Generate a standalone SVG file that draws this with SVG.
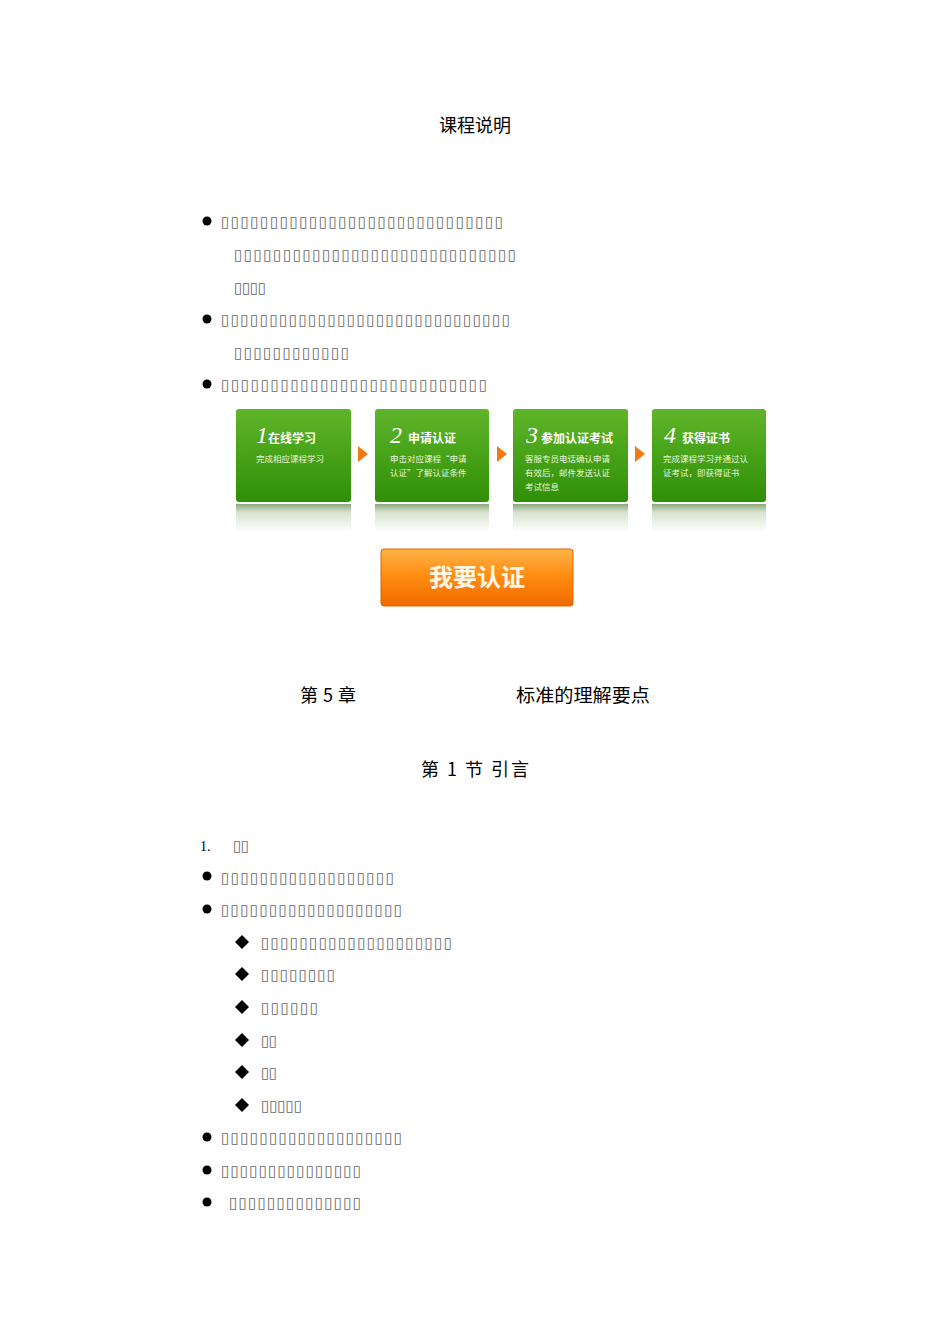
<svg xmlns="http://www.w3.org/2000/svg" width="950" height="1344" viewBox="0 0 950 1344">
<defs>
<style>
.t{font-family:"Noto Sans CJK SC","Liberation Sans",sans-serif;fill:#000}
.h{font-size:18px}
.b{font-family:"DejaVu Sans",sans-serif;font-size:15px;fill:#666}
.g1{font-family:"Noto Sans CJK SC",sans-serif;font-size:12px;fill:#fff;font-weight:bold}
.g2{font-family:"Noto Sans CJK SC",sans-serif;font-size:8.5px;fill:#e8f5d8}
.n{font-family:"Liberation Serif",serif;font-style:italic;font-size:24px;fill:#fff}
</style>
<linearGradient id="gg" x1="0" y1="0" x2="0" y2="1"><stop offset="0" stop-color="#5fb52a"/><stop offset="1" stop-color="#2f8f06"/></linearGradient>
<linearGradient id="rf" x1="0" y1="0" x2="0" y2="1"><stop offset="0" stop-color="#8aa87a"/><stop offset="0.3" stop-color="#d8e2d0"/><stop offset="1" stop-color="#fff"/></linearGradient>
<linearGradient id="og" x1="0" y1="0" x2="0" y2="1"><stop offset="0" stop-color="#ffb347"/><stop offset="0.5" stop-color="#ff8a10"/><stop offset="1" stop-color="#f06a00"/></linearGradient>
<g id="tri"><polygon points="0,-8 10,0 0,8" fill="#f07a10"/></g>
</defs>
<rect width="950" height="1344" fill="#fff"/>
<text class="t h" x="475" y="132" text-anchor="middle">课程说明</text>
<g id="bullets1">
<circle cx="207" cy="221" r="4.5"/><circle cx="207" cy="319" r="4.5"/><circle cx="207" cy="384" r="4.5"/>
<text class="b" x="221" y="227" textLength="282" lengthAdjust="spacing">▯▯▯▯▯▯▯▯▯▯▯▯▯▯▯▯▯▯▯▯▯▯▯▯▯▯▯▯▯</text>
<text class="b" x="234" y="260" textLength="282" lengthAdjust="spacing">▯▯▯▯▯▯▯▯▯▯▯▯▯▯▯▯▯▯▯▯▯▯▯▯▯▯▯▯▯</text>
<text class="b" x="234" y="293" textLength="32" lengthAdjust="spacing">▯▯▯▯</text>
<text class="b" x="221" y="325" textLength="289" lengthAdjust="spacing">▯▯▯▯▯▯▯▯▯▯▯▯▯▯▯▯▯▯▯▯▯▯▯▯▯▯▯▯▯▯</text>
<text class="b" x="234" y="358" textLength="115" lengthAdjust="spacing">▯▯▯▯▯▯▯▯▯▯▯▯</text>
<text class="b" x="221" y="390" textLength="266" lengthAdjust="spacing">▯▯▯▯▯▯▯▯▯▯▯▯▯▯▯▯▯▯▯▯▯▯▯▯▯▯▯</text>
</g>
<g id="step1">
<rect x="236" y="504" width="115" height="28" fill="url(#rf)"/>
<rect x="236" y="409" width="115" height="93" rx="3" fill="url(#gg)"/>
<text class="n" x="256" y="443">1</text><text class="g1" x="268" y="443">在线学习</text>
<text class="g2" x="256" y="462">完成相应课程学习</text>
</g>
<g id="step2">
<rect x="375" y="504" width="114" height="28" fill="url(#rf)"/>
<rect x="375" y="409" width="114" height="93" rx="3" fill="url(#gg)"/>
<text class="n" x="390" y="443">2</text><text class="g1" x="408" y="443">申请认证</text>
<text class="g2" x="390" y="462">申击对应课程“申请</text><text class="g2" x="390" y="476">认证”了解认证条件</text>
</g>
<g id="step3">
<rect x="513" y="504" width="115" height="28" fill="url(#rf)"/>
<rect x="513" y="409" width="115" height="93" rx="3" fill="url(#gg)"/>
<text class="n" x="526" y="443">3</text><text class="g1" x="541" y="443">参加认证考试</text>
<text class="g2" x="525" y="462">客服专员电话确认申请</text><text class="g2" x="525" y="476">有效后，邮件发送认证</text><text class="g2" x="525" y="490">考试信息</text>
</g>
<g id="step4">
<rect x="652" y="504" width="114" height="28" fill="url(#rf)"/>
<rect x="652" y="409" width="114" height="93" rx="3" fill="url(#gg)"/>
<text class="n" x="664" y="443">4</text><text class="g1" x="682" y="443">获得证书</text>
<text class="g2" x="663" y="462">完成课程学习并通过认</text><text class="g2" x="663" y="476">证考试，即获得证书</text>
</g>
<g id="connectors">
<use href="#tri" x="358" y="454"/><use href="#tri" x="497" y="454"/><use href="#tri" x="635" y="454"/>
</g>
<g id="button">
<rect x="381" y="549" width="192" height="57" rx="3" fill="url(#og)" stroke="#e06000"/>
<text x="477" y="586" text-anchor="middle" font-family="Noto Sans CJK SC,sans-serif" font-size="24" font-weight="bold" fill="#fff8e8">我要认证</text>
</g>
<text class="t h" x="300" y="702" textLength="56" lengthAdjust="spacing">第 5 章</text>
<text class="t h" x="516" y="702" textLength="134" lengthAdjust="spacingAndGlyphs">标准的理解要点</text>
<text class="t h" x="421" y="776" textLength="108" lengthAdjust="spacing">第 1 节  引言</text>
<g id="list2">
<text x="200" y="851" font-family="Liberation Serif,serif" font-size="14">1.</text>
<text class="b" x="233" y="851" textLength="16" lengthAdjust="spacing">▯▯</text>
<circle cx="207" cy="876" r="4.5"/><circle cx="207" cy="909" r="4.5"/><circle cx="207" cy="1137" r="4.5"/><circle cx="207" cy="1170" r="4.5"/><circle cx="207" cy="1202" r="4.5"/>
<text class="b" x="221" y="883" textLength="173" lengthAdjust="spacing">▯▯▯▯▯▯▯▯▯▯▯▯▯▯▯▯▯▯</text>
<text class="b" x="221" y="915" textLength="181" lengthAdjust="spacing">▯▯▯▯▯▯▯▯▯▯▯▯▯▯▯▯▯▯▯</text>
<g fill="#000">
<polygon points="242,935 249,942 242,949 235,942"/><polygon points="242,967 249,974 242,981 235,974"/><polygon points="242,1000 249,1007 242,1014 235,1007"/><polygon points="242,1033 249,1040 242,1047 235,1040"/><polygon points="242,1065 249,1072 242,1079 235,1072"/><polygon points="242,1098 249,1105 242,1112 235,1105"/>
</g>
<text class="b" x="261" y="948" textLength="191" lengthAdjust="spacing">▯▯▯▯▯▯▯▯▯▯▯▯▯▯▯▯▯▯▯▯</text>
<text class="b" x="261" y="980" textLength="74" lengthAdjust="spacing">▯▯▯▯▯▯▯▯</text>
<text class="b" x="261" y="1013" textLength="57" lengthAdjust="spacing">▯▯▯▯▯▯</text>
<text class="b" x="261" y="1046" textLength="16" lengthAdjust="spacing">▯▯</text>
<text class="b" x="261" y="1078" textLength="16" lengthAdjust="spacing">▯▯</text>
<text class="b" x="261" y="1111" textLength="41" lengthAdjust="spacing">▯▯▯▯▯</text>
<text class="b" x="221" y="1143" textLength="181" lengthAdjust="spacing">▯▯▯▯▯▯▯▯▯▯▯▯▯▯▯▯▯▯▯</text>
<text class="b" x="221" y="1176" textLength="140" lengthAdjust="spacing">▯▯▯▯▯▯▯▯▯▯▯▯▯▯▯</text>
<text class="b" x="229" y="1208" textLength="132" lengthAdjust="spacing">▯▯▯▯▯▯▯▯▯▯▯▯▯▯</text>
</g>
</svg>
